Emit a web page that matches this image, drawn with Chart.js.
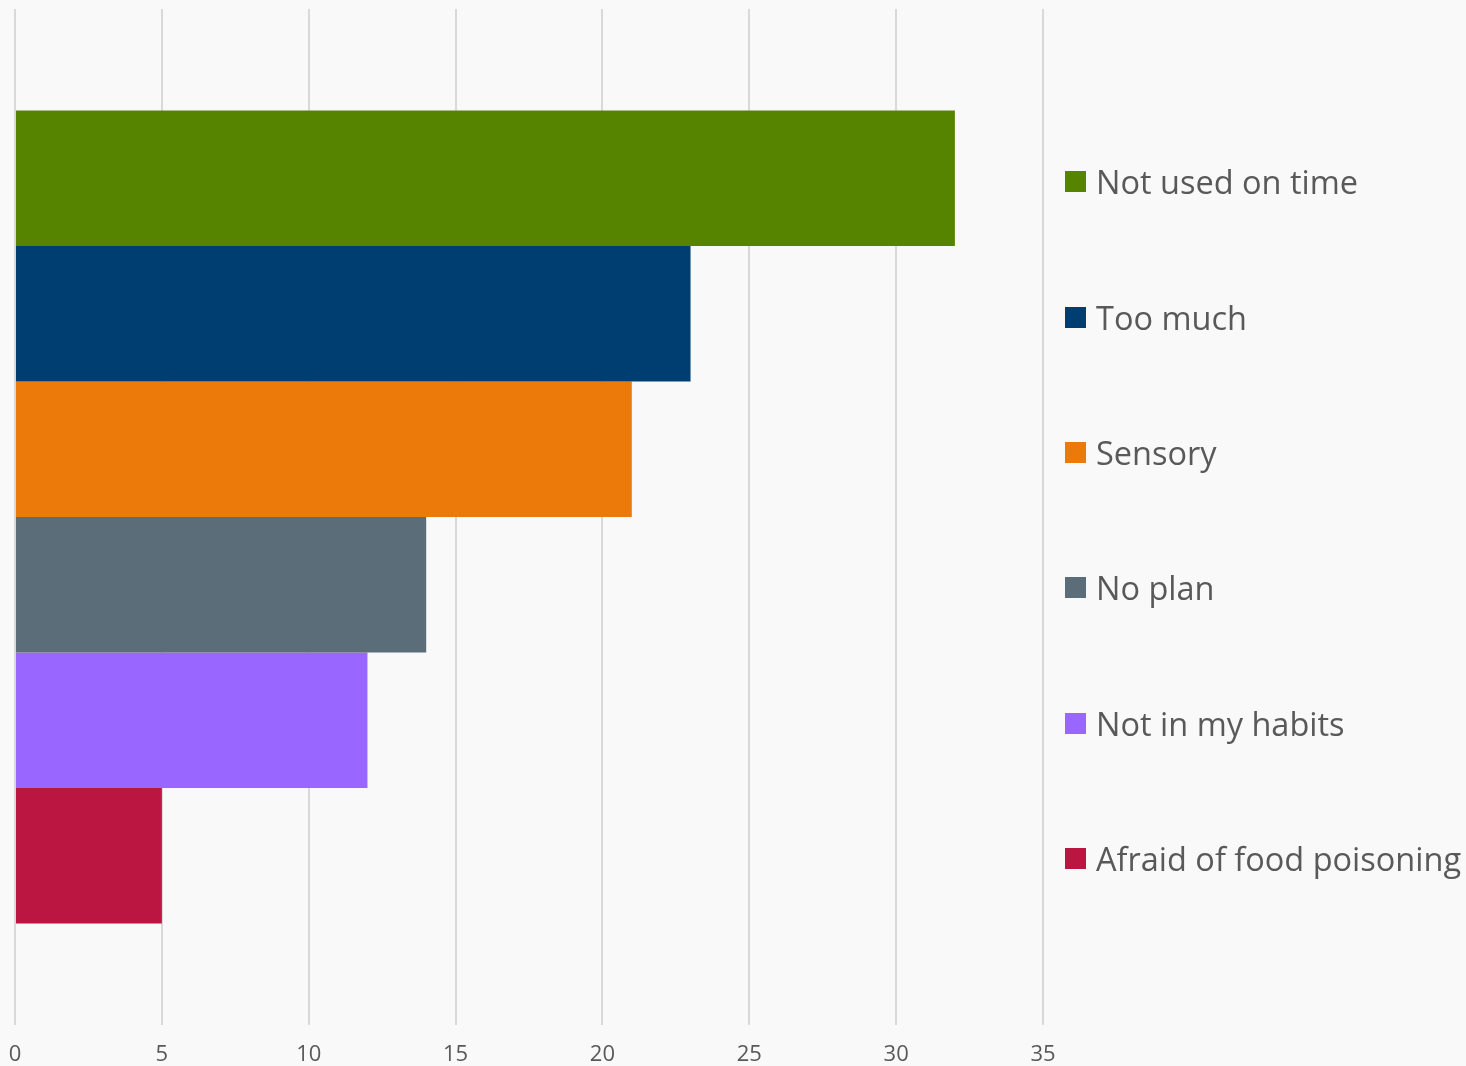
<!DOCTYPE html>
<html lang="en">
<head>
  <meta charset="UTF-8">
  <title>Reasons for food waste</title>
  <style>
    body {
      margin: 0;
      background: #faf9fa;
      font-family: "Open Sans", Arial, sans-serif;
    }
    .wrap {
      position: relative;
      width: 1466px;
      height: 1066px;
      overflow: hidden;
    }
    canvas {
      display: block;
    }
    #legend {
      position: absolute;
      left: 1065px;
      top: 114px;
      margin: 0;
      padding: 0;
      list-style: none;
    }
    #legend li {
      height: 135.4px;
      display: flex;
      align-items: center;
      white-space: nowrap;
      color: #595959;
      font-size: 32.5px;
    }
    #legend .box {
      width: 21px;
      height: 21px;
      margin-right: 10px;
      flex: none;
    }
  </style>
</head>
<body>
  <div class="wrap">
    <canvas id="chart" width="1466" height="1066"></canvas>
    <ul id="legend"></ul>
  </div>

  <script src="https://cdn.jsdelivr.net/npm/chart.js"></script>
  <script>
    // one group, one bar per reason
    const reasons = ['Not used on time', 'Too much', 'Sensory', 'No plan', 'Not in my habits', 'Afraid of food poisoning'];
    const counts = [32, 23, 21, 14, 12, 5];
    const colors = ['#568300', '#003e71', '#eb7a0a', '#5a6d78', '#9966ff', '#bb1541'];
    const xTicks = [0, 5, 10, 15, 20, 25, 30, 35];

    const ctx = document.getElementById('chart').getContext('2d');
    new Chart(ctx, {
      type: 'bar',
      data: {
        labels: [''],
        datasets: reasons.map((name, i) => ({
          label: name,
          data: [counts[i]],
          backgroundColor: colors[i],
          categoryPercentage: 0.8,
          barPercentage: 1.0
        }))
      },
      options: {
        indexAxis: 'y',
        responsive: false,
        animation: false,
        layout: {
          padding: { top: 9, left: 15, right: 423, bottom: 0 }
        },
        plugins: {
          legend: { display: false },
          tooltip: { enabled: false }
        },
        scales: {
          x: {
            min: xTicks[0],
            max: xTicks[xTicks.length - 1],
            afterBuildTicks: axis => {
              axis.ticks = xTicks.map(v => ({ value: v }));
            },
            afterFit: axis => {
              axis.height = 41;
              axis.paddingLeft = 0;
              axis.paddingRight = 0;
            },
            border: { display: false },
            grid: {
              color: '#d9d9d9',
              lineWidth: 2,
              drawTicks: false
            },
            ticks: {
              color: '#595959',
              padding: 17,
              font: { family: '"Open Sans", Arial, sans-serif', size: 22 }
            }
          },
          y: {
            display: false
          }
        }
      }
    });

    // legend on the right
    const legend = document.getElementById('legend');
    reasons.forEach((name, i) => {
      const li = document.createElement('li');
      const box = document.createElement('span');
      box.className = 'box';
      box.style.background = colors[i];
      li.appendChild(box);
      li.appendChild(document.createTextNode(name));
      legend.appendChild(li);
    });
  </script>
</body>
</html>
